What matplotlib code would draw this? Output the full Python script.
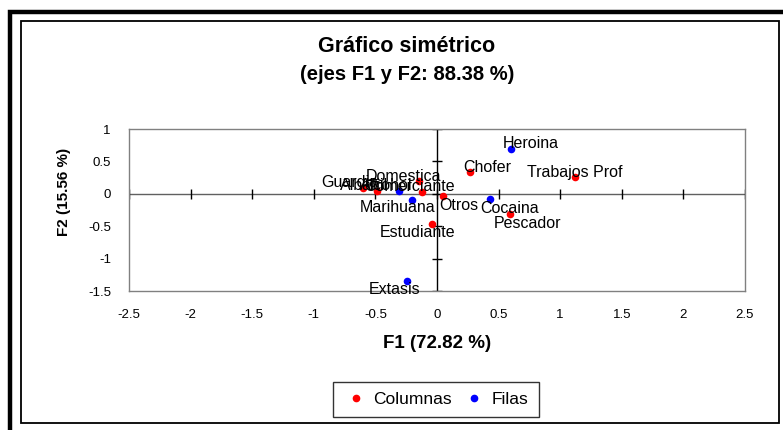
import matplotlib
matplotlib.use("Agg")
import matplotlib.pyplot as plt
from matplotlib.lines import Line2D
from matplotlib.patches import Rectangle

plt.rcParams['font.family'] = ['Liberation Sans', 'DejaVu Sans']

# Data
col_labels = ["Guardia", "Albañil", "Domestica", "Comerciante", "Otros",
              "Chofer", "Trabajos Prof", "Pescador", "Estudiante"]
col_x = [-0.60, -0.49, -0.15, -0.12, 0.05, 0.27, 1.12, 0.59, -0.04]
col_y = [0.09, 0.05, 0.19, 0.03, -0.04, 0.33, 0.26, -0.31, -0.46]

row_labels = ["Heroina", "Cocaina", "Marihuana", "Alcohol", "Extasis"]
row_x = [0.60, 0.43, -0.20, -0.31, -0.24]
row_y = [0.69, -0.08, -0.10, 0.05, -1.34]

xticks = [-2.5, -2, -1.5, -1, -0.5, 0, 0.5, 1, 1.5, 2, 2.5]
yticks = [-1.5, -1, -0.5, 0, 0.5, 1]

# label offsets in pixels (dx, dy) relative to point
col_off = [(-13, 7), (-13, 7), (-15, 6), (-13, 7), (16, -8), (17, 6), (0, 6), (18, -8), (-15, -7)]
row_off = [(20, 7), (20, -8), (-15, -6), (-13, 7), (-13, -7)]

W, H = 783, 430
fig = plt.figure(figsize=(W / 100, H / 100), dpi=100)

# outer borders
fig.add_artist(Line2D([10 / W, 10 / W, 1.0], [0.0, 1 - 12 / H, 1 - 12 / H],
                      transform=fig.transFigure, color='black', lw=3.2,
                      solid_joinstyle='miter'))
fig.add_artist(Rectangle((20.5 / W, 1 - 423 / H), (779 - 20.5) / W, (423 - 21) / H,
                         transform=fig.transFigure, fill=False, lw=1.3, ec='black'))

L, R, T, B = 129, 745, 129, 291
ax = fig.add_axes([L / W, 1 - B / H, (R - L) / W, (B - T) / H])
ax.set_xlim(-2.5, 2.5)
ax.set_ylim(-1.5, 1)
for s in ax.spines.values():
    s.set_color('#808080')
    s.set_linewidth(1.0)

ax.set_xticks(xticks)
ax.set_xticklabels([f"{t:g}" for t in xticks], fontsize=9.5)
ax.set_yticks(yticks)
ax.set_yticklabels([f"{t:g}" for t in yticks], fontsize=9.5)
ax.tick_params(axis='x', length=0, pad=13)
ax.tick_params(axis='y', length=0, pad=13)

ax.axhline(0, color='#606060', lw=1.0, zorder=1)
ax.axvline(0, color='black', lw=1.0, zorder=1)
ax.plot(xticks, [0] * len(xticks), ls='none', marker='|', ms=7, mew=1.0, color='black', zorder=1)
ax.plot([0] * len(yticks), yticks, ls='none', marker='_', ms=7, mew=1.0, color='black', zorder=1)

ax.scatter(col_x, col_y, s=30, color='red', zorder=3, linewidths=0)
ax.scatter(row_x, row_y, s=30, color='blue', zorder=3, linewidths=0)

for lab, x, y, off in zip(col_labels, col_x, col_y, col_off):
    ax.annotate(lab, (x, y), xytext=off, textcoords='offset pixels',
                ha='center', va='center_baseline', fontsize=11.5, zorder=4)
for lab, x, y, off in zip(row_labels, row_x, row_y, row_off):
    ax.annotate(lab, (x, y), xytext=off, textcoords='offset pixels',
                ha='center', va='center_baseline', fontsize=11.5, zorder=4)

ax.set_xlabel("F1 (72.82 %)", fontsize=13.5, fontweight='bold', labelpad=10)
ax.set_ylabel("F2 (15.56 %)", fontsize=11, fontweight='bold')
ax.yaxis.set_label_coords((71 - L) / (R - L), (B - 192) / (B - T))

fig.text(407 / W, 1 - 46 / H, "Gráfico simétrico", ha='center', va='center',
         fontsize=15.5, fontweight='bold')
fig.text(407 / W, 1 - 74 / H, "(ejes F1 y F2: 88.38 %)", ha='center', va='center',
         fontsize=14.5, fontweight='bold')

handles = [Line2D([], [], ls='none', marker='o', ms=4.5, color='red', label='Columnas'),
           Line2D([], [], ls='none', marker='o', ms=4.5, color='blue', label='Filas')]
leg = fig.legend(handles=handles, loc='center', bbox_to_anchor=(436 / W, 1 - 399.5 / H),
                 ncol=2, fontsize=12.5, frameon=True, fancybox=False, edgecolor='black',
                 handletextpad=0.3, columnspacing=0.6, handlelength=1.4, borderpad=0.6)
leg.get_frame().set_linewidth(1.0)

fig.savefig("out.png", dpi=100)
